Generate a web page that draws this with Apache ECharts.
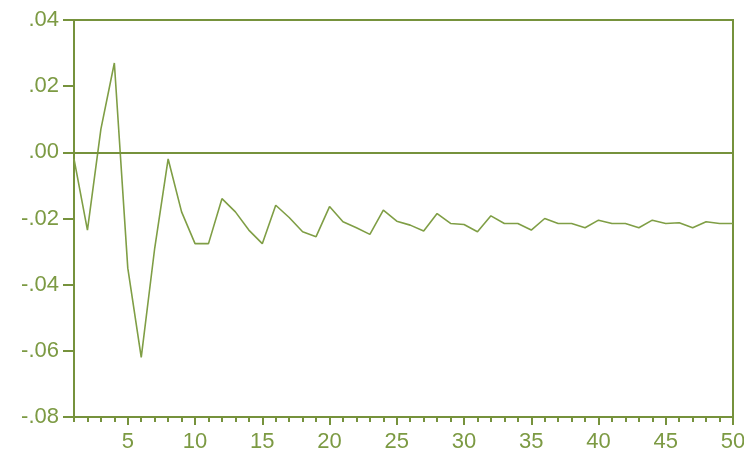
<!DOCTYPE html>
<html>
<head>
<meta charset="utf-8">
<script src="https://cdn.jsdelivr.net/npm/echarts@6/dist/echarts.min.js"></script>
<style>
html,body{margin:0;padding:0;background:#fff;}
#c{width:744px;height:457px;}
</style>
</head>
<body>
<div id="c"></div>
<script>
var periods = [1,2,3,4,5,6,7,8,9,10,11,12,13,14,15,16,17,18,19,20,21,22,23,24,25,26,27,28,29,30,31,32,33,34,35,36,37,38,39,40,41,42,43,44,45,46,47,48,49,50];
var response = [-0.002,-0.0235,0.007,0.027,-0.035,-0.062,-0.029,-0.002,-0.018,-0.0276,
  -0.0276,-0.014,-0.018,-0.0235,-0.0276,-0.016,-0.0197,-0.024,-0.0255,-0.0164,
  -0.021,-0.0228,-0.0248,-0.0175,-0.0208,-0.022,-0.0238,-0.0185,-0.0215,-0.0218,
  -0.024,-0.0192,-0.0215,-0.0215,-0.0235,-0.020,-0.0215,-0.0215,-0.0228,-0.0205,
  -0.0215,-0.0215,-0.0228,-0.0205,-0.0215,-0.0213,-0.0228,-0.021,-0.0215,-0.0215];
var xMajorTicks = [5,10,15,20,25,30,35,40,45,50];
var xMinorTicks = periods;
var yTickLabels = ['-.08','-.06','-.04','-.02','.00','.02','.04'];

var col = '#76923c';
var txt = '#7c9a43';
var chart = echarts.init(document.getElementById('c'));
chart.setOption({
  animation: false,
  grid: {left: 74, right: 11, top: 20, bottom: 40, show: true, borderColor: col, borderWidth: 2,
    backgroundColor: '#fff', outerBoundsMode: 'none', containLabel: false},
  xAxis: [{
    type: 'value', min: 1, max: 50,
    axisLine: {show: true, onZero: false, lineStyle: {color: col, width: 2}},
    axisTick: {show: true, customValues: xMajorTicks, length: 8, lineStyle: {color: col, width: 2}},
    axisLabel: {customValues: xMajorTicks, color: txt, fontSize: 22, fontFamily: 'Liberation Sans, Arial', margin: 14},
    splitLine: {show: false}
  }, {
    type: 'value', min: 1, max: 50, position: 'bottom',
    axisLine: {show: false, onZero: false},
    axisTick: {show: true, customValues: xMinorTicks, length: 5, lineStyle: {color: col, width: 2}},
    axisLabel: {show: false},
    splitLine: {show: false}
  }],
  yAxis: {
    type: 'value', min: -0.08, max: 0.04, interval: 0.02,
    axisLine: {show: true, onZero: false, lineStyle: {color: col, width: 2}},
    axisTick: {show: true, length: 11, lineStyle: {color: col, width: 2}},
    axisLabel: {color: txt, fontSize: 22, fontFamily: 'Liberation Sans, Arial', margin: 15,
      formatter: function (v) {
        var i = Math.round((v + 0.08) / 0.02);
        return yTickLabels[i];
      }},
    splitLine: {show: false}
  },
  series: [{
    type: 'line',
    xAxisIndex: 0,
    data: periods.map(function (p, i) { return [p, response[i]]; }),
    symbol: 'none',
    lineStyle: {color: '#7f9e45', width: 1.6},
    markLine: {
      silent: true, symbol: 'none', label: {show: false},
      lineStyle: {color: col, width: 2, type: 'solid'},
      data: [{yAxis: 0}]
    }
  }]
});
</script>
</body>
</html>
